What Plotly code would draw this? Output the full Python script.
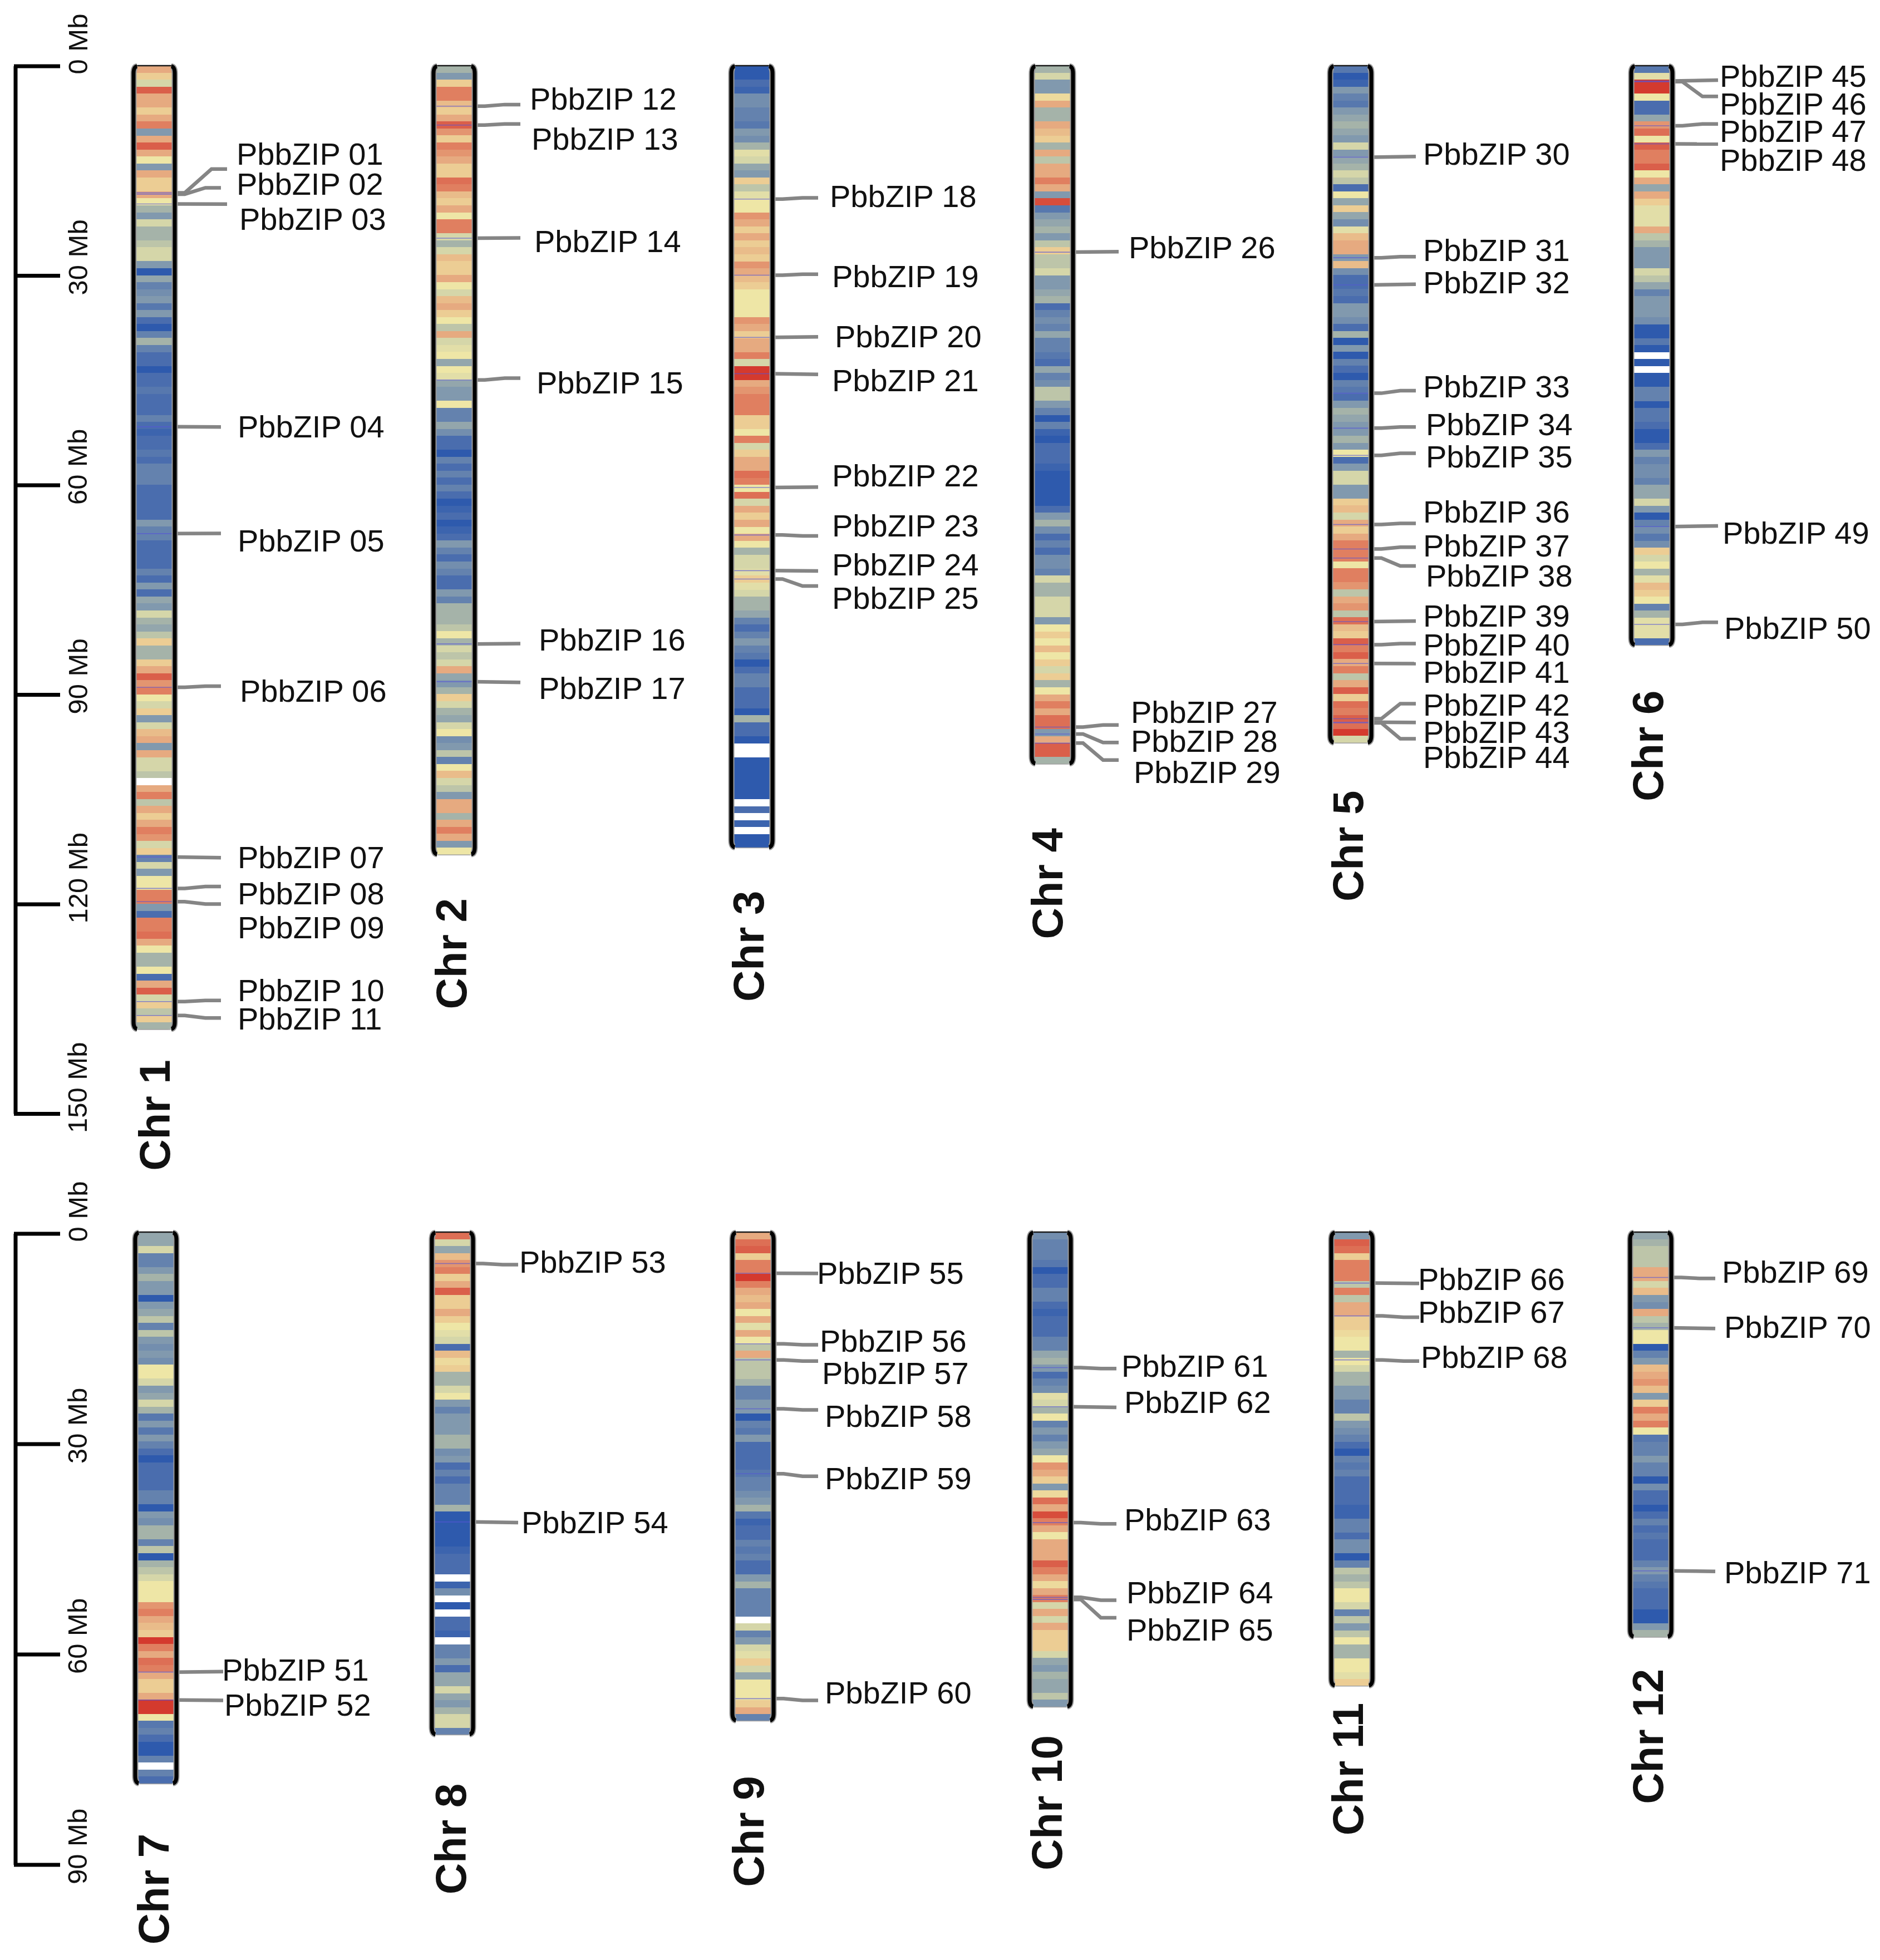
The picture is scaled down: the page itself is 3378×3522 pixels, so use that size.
import plotly.graph_objects as go

# ---- density level per 1 Mb bin, one list per chromosome (None = gap) ----
chr1 = [8,7,5,10,8,8,7,8,9,3,8,10,8,6,3,8,7,7,8,6,4,3,5,4,4,4.5,5,5,3,0,3.5,2,2.5,3,1.5,3,1,0,2,4,2,1,1,0,1,1,1.5,1,1,1,2,1,0.5,1,1,1.5,1,2,2,2,1,1,1,1,1,3,2,2,1,1,
        1,1,2,1,3,1,3.5,3,5,4,3.5,4.5,7,4,4,7,8,10,8.5,9,6,5,7,3,5,7.5,8,3,8,5,5,4.5,None,8,9,4.5,8,7,8,9,8.5,5,7,2,5,3,6,6,9,9,3,1,9,9,9.5,8,6,4,4,6,1,8,10,5,7,4.5,7,4]
chr2 = [4,3,7,9,9,7.5,7,8,10,8.5,7,9,8.5,8,7,7,9.5,9,7.5,7,8,6,9,9,5,4,5,7.5,7,7,8,6,5,7.5,8,7,6,4.5,8,5,5.5,6,3.5,6,5.5,3.5,3,3,6,2,2,3.5,2.5,1,1,0,
        2,1,2,1,2,1,0,0.5,1,0,0.5,1,3,2,1,2.5,2,1,1,3,2,4,4,4,4.5,6,4,5,4.5,5,8,3.5,3,4,7,5,4,3.5,5,6,2.5,3,4.5,2,6,7.5,5,4.5,3,8,8,4,8,9,8,3,6]
chr3 = [0,0,1,0.5,2.5,2.5,2,2,1.5,3,2.5,4,5.5,5,3.5,3,7,4.5,5.5,6,6,8.5,8,7,8,7,7.5,7,8.5,8,7.5,7,6,6,6,6,8.5,8,7,8,8,9,5,11,11,8,8.5,9,9,9,7,7,6,9,5,7,
        8,8,9.5,9,6,9.5,5,8,7,8,6,8,6,4,5,5,5.5,7,5.5,5,4,4,3.5,2,1,2,3,2,1.5,0,1,2,2,1,1,1,0,4,1,1,0,None,None,0,0,0,0,0,0,None,1,None,0.5,None,0,0]
chr4 = [4,5,3,3,6.5,8,4,4,8,7.5,7,4,8,4.5,8,8,9,8,3,10.5,1.5,3,3.5,4,3,4.5,7,4.5,4.5,5,3,3,3.5,4,1,2,2.5,2,3.5,2,2,1.5,1,3.5,2,2.5,4.5,4.5,3,2,0,
        2,0.5,0,1,1,1,0.5,0,0,0,0,0,1,3,4,2.5,1,2,1,2.5,2.5,2,5,4,4,5,5,5,3,6,7,6,7.5,6,7,5,7,4,6,8,9,8,9.5,9.5,3,8,10,10,4]
chr5 = [1.5,0,0.5,3,2,1.5,3,3.5,4,3.5,3,5,3,3.5,4,5,4.5,1,6,3.5,7,3.5,2.5,5.5,7.5,8,8,3,7.5,2.5,1,1,1.5,1,3,3,2.5,1,4,0,3,0,2,1,0,2,1.5,1,3,4,3.5,
        3,3,4,3,6,1,3,5,5,3,3,7,7.5,5,8,7,8,9,9,9,6,9,9,8.5,4.5,8,8.5,4.5,9.5,7.5,7,10,9,10,8,9,4.5,8,10,7,9.5,9,10,9.5,11,5]
chr6 = [1.5,5.5,11,11,6,1,1,3.5,8.5,9.5,6,10,9,9,10,6,8,3.5,8,7,5.5,5.5,5.5,8,4.5,4,3,3,3,5,4.5,3.5,2,3,3,3,2.5,0,0,1.5,0,None,0,None,0,0,2,2,0,1.5,1.5,1,0,0,1,3,2,2.5,2.5,2,3.5,3.5,5,3,0,2,2.5,1.5,2.5,7,5,6,4,5.5,7.5,7,6,2,4,5.5,5.5,5.5,1]
chr7 = [3.5,3.5,5,2,2,3,4,3,3,0,3,3.5,4.5,2,4.5,3,2.5,3,2.5,6,6,5,3,3.5,5,4,1.5,3,1.5,3,2,1,0,1,1,1,1,2,2,0,3,2.5,4,4,2,4.5,0,4,4.5,5,6,6,6,8.5,9,8,7.5,7,11,9,8,9.5,9,8,7,7,8,11,11,6,1.5,2,1,0,0,2,None,2,1]
chr8 = [9.5,5,3.5,7.5,8.5,9,7,8,10,7,7,8,7,6,5.5,5,1,7.5,6.5,7,4,4,5,6,3,2,3,3,3,4,4,2.5,3,1,2,1,2,2,2,4,0,0,0,0,0,0.5,1,1,1,None,0.5,2.5,None,0,None,1,1,0.5,None,2,2,3,1,3.5,3.5,5,3.5,3,4,5,5,2]
chr9 = [8,9.5,10,7,9,9,11,9,8,7.5,8,6,8,5.5,8,6,4.5,8,4.5,4.5,4.5,4,2,2,3,3,0,2,1.5,3,1,1,1,1,1.5,2,2,2.5,3,4,1.5,0.5,1,1,2,1.5,2,1,1,3,4,2,2,2,2,None,5,2,3,5,5.5,7,5,3.5,6,6,6,7,8,2]
chr10 = [2.5,2,2,2,1.5,0,1,1,2,2,1,0.5,1,1,1,2,2,3.5,4,3,1,2,2.5,5.5,5,4,6,2,3,2,3,3.5,6,8.5,8,7,3,6.5,9.5,8,10.5,9,8,6,8,8,8,10,9,8,6.5,8,9,5,8,5,8,7,7,7,5,3.5,3,4,3.5,3.5,4.5,3]
chr11 = [3,10,9.5,7,9,9,9,4.5,9,4.5,8,8,7,7,6.5,6,6,4,6,5,4,4,3,3,2,2,4.5,3,2.5,2,1,0,2,1.5,2,1,1,1,1,0.5,0.5,2,2,1,2.5,2.5,0,2,4.5,4,4.5,6,6,5,2,4.5,3,4.5,6,4,4,6,6,5.5,7]
chr12 = [3.5,4,4.5,4.5,4.5,8,8,5,7.5,3,2.5,8,4.5,4,6,6,0,2,3,7.5,8,8.5,7.5,3,7,9,8,9,6,1.5,2,2,3,2,2,0,2.5,1,1,0,1,2,1,1.5,1,1,1,2,3,2,1.5,1,1,1,0,0,3,4]

chromosomes = [chr1, chr2, chr3, chr4, chr5, chr6, chr7, chr8, chr9, chr10, chr11, chr12]
chr_names = ["Chr 1","Chr 2","Chr 3","Chr 4","Chr 5","Chr 6","Chr 7","Chr 8","Chr 9","Chr 10","Chr 11","Chr 12"]

# ---- gene positions (Mb), one group per chromosome ----
gene_mb = [
    [18.2,18.4,19.8,51.7,67,89,113.3,117.8,119.7,134,136],
    [5.8,8.5,24.7,45,82.8,88.2],
    [19.1,30,38.9,44.1,60.4,67.2,72.3,73.5],
    [26.7,94.7,95.7,97],
    [13.1,27.5,31.4,46.9,51.9,55.8,65.7,69.2,70.5,79.6,82.9,85.6,93.5,94,94.1],
    [2.2,2.3,8.6,11.2,66,80],
    [63,67],
    [4.5,41.5],
    [5.9,16,18.3,25.3,34.6,66.8],
    [19.4,25,41.6,52.3,52.6],
    [7.3,12,18.3],
    [6.5,13.7,48.5],
]

# ---- layout of the drawing (pixels on the page) ----
W, H = 3378, 3522
PX_PER_MB = 12.55
ROW_SPLIT = 2140
ROW_TOP = [118, 2214]
SCALE_TOP = [119, 2217]
SCALE_PX_PER_MB = [12.55, 12.6]
IMG = 2.25
COL_X = [277,816,1351,1891,2427,2968, 280,813,1353,1887,2429,2966]
HALF_FILL, HALF_STROKE, RADIUS = 34, 37, 14
LABEL_DX, LABEL_YSHIFT = -4, 3

label_img_y = [
    [124,148,176,342,433,553,686,715,742,792,815],
    [80,112,194,307,512,551],
    [158,222,270,305,381,421,452,479],
    [199,570,593,618],
    [124,201,227,310,340,366,410,437,461,493,516,538,564,586,606],
    [62,84,106,129,427,503],
    [1335,1363],
    [1009,1217],
    [1018,1072,1098,1132,1182,1353],
    [1092,1121,1215,1273,1303],
    [1023,1049,1085],
    [1017,1061,1257],
]
line_end_img_y = [
    [135,150,163,341,426,548,685,708,722,799,813],
    [83.5,99,190,302,514,545],
    [158,219,269,299,389,428,456,468],
    [201,579,593,607],
    [125,205,227,312,341,362,418,437,452,496,514,530,562,577,590],
    [64,77,99,115,420,497],
    [1335,1358],
    [1010,1216],
    [1017,1074,1087,1126,1179,1358],
    [1093,1124,1217,1278,1292],
    [1025,1052,1087],
    [1021,1061,1255],
]
label_x = [
    [427,427,432,429,429,433,429,429,429,429,429],
    [954,957,962,966,970,970],
    [1493,1497,1502,1497,1497,1497,1497,1497],
    [2030,2034,2034,2039],
    [2559,2559,2559,2559,2564,2564,2559,2559,2564,2559,2559,2559,2559,2559,2559],
    [3092,3092,3092,3092,3097,3100],
    [401,405],
    [935,939],
    [1470,1475,1479,1484,1484,1484],
    [2017,2022,2022,2026,2026],
    [2550,2550,2555],
    [3096,3100,3100],
]
line_end_x = [
    [408,397,408,397,397,397,397,397,397,397,397],
    [935]*6, [1470]*8, [2010]*4, [2544]*15, [3087]*6,
    [401]*2, [931]*2, [1470]*6, [2006]*5, [2550]*3, [3082]*3,
]
chr_label_x = [278,810,1345,1881,2422,2961, 276,810,1345,1881,2422,2961]
chr_label_img_y = [891,762,756,706,676,596, 1509,1469,1463,1440,1413,1387]

scale_ticks = [[0,30,60,90,120,150],[0,30,60,90]]
AXIS_X, TICK_END, TICK_LABEL_X = 28, 108, 139

COLORS = ["#2e5aad","#4a6dae","#6482ae","#8199ae","#a5b3a9","#d5d6a9",
          "#eee6a6","#eccd94","#e6aa80","#e07f60","#da5f4a","#d43a2e"]
colorscale = [[i/11, c] for i, c in enumerate(COLORS)]

FONT = "Liberation Sans"
fig = go.Figure()
shapes, annots = [], []

def row_of(i):
    return 0 if i < 6 else 1
def yname(r):
    return "y" if r == 0 else "y2"
def scale_y(r):
    return "y3" if r == 0 else "y4"
def img_to_mb(v, r):
    return (v*IMG - ROW_TOP[r]) / PX_PER_MB

for i, bins in enumerate(chromosomes):
    r = row_of(i)
    cx = COL_X[i]
    n = len(bins)
    fig.add_trace(go.Heatmap(
        x=[cx-HALF_FILL, cx+HALF_FILL], y=list(range(n+1)),
        z=[[b] for b in bins], zmin=0, zmax=11, colorscale=colorscale,
        showscale=False, yaxis=yname(r), hoverinfo="skip"))
    # thin marks across the chromosome and the connector to the label
    for j, g in enumerate(gene_mb[i]):
        fig.add_trace(go.Scatter(
            x=[cx-HALF_FILL, cx+HALF_FILL], y=[g, g], mode="lines", yaxis=yname(r),
            line=dict(color="rgba(85,85,215,0.65)", width=1.6), showlegend=False, hoverinfo="skip"))
        edge = cx + HALF_STROKE
        ex = line_end_x[i][j]
        e_mb = img_to_mb(line_end_img_y[i][j], r)
        fig.add_trace(go.Scatter(
            x=[edge, edge+18, ex-28, ex], y=[g, g, e_mb, e_mb], mode="lines", yaxis=yname(r),
            line=dict(color="#858585", width=6.5), showlegend=False, hoverinfo="skip"))
        annots.append(dict(
            x=label_x[i][j]+LABEL_DX, y=img_to_mb(label_img_y[i][j], r), xref="x", yref=yname(r),
            text=f"PbbZIP {sum(len(g2) for g2 in gene_mb[:i]) + j + 1:02d}",
            showarrow=False, xanchor="left", yanchor="middle", yshift=LABEL_YSHIFT,
            font=dict(family=FONT, size=56, color="#111111")))
    # rounded ends: white corner masks, then outline
    yr = yname(r)
    rad = RADIUS / PX_PER_MB
    L, R = cx-HALF_STROKE, cx+HALF_STROKE
    for (sx, px0, ye, sy) in [(1,L,0,1),(-1,R,0,1),(1,L,n,-1),(-1,R,n,-1)]:
        shapes.append(dict(type="path", xref="x", yref=yr, layer="above", line=dict(width=0), fillcolor="white",
            path=f"M {px0} {ye} L {px0+sx*RADIUS} {ye} Q {px0} {ye} {px0} {ye+sy*rad} Z"))
    for color, width in [("#9a9a9a", 11), ("#000000", 7)]:
        for px0, sx in [(L, 1), (R, -1)]:
            shapes.append(dict(type="path", xref="x", yref=yr, layer="above",
                line=dict(color=color, width=width),
                path=(f"M {px0+sx*RADIUS*0.45} {rad*0.08} Q {px0} {rad*0.15} {px0} {rad} "
                      f"L {px0} {n-rad} Q {px0} {n-rad*0.15} {px0+sx*RADIUS*0.45} {n-rad*0.08}")))
    shapes.append(dict(type="line", xref="x", yref=yr, layer="above", x0=L+RADIUS*0.45, x1=R-RADIUS*0.45, y0=0, y1=0,
                       line=dict(color="#1a1a1a", width=2.5)))
    shapes.append(dict(type="line", xref="x", yref=yr, layer="above", x0=L+RADIUS*0.45, x1=R-RADIUS*0.45, y0=n, y1=n,
                       line=dict(color="#a0a0a0", width=1.5)))
    annots.append(dict(x=chr_label_x[i], y=img_to_mb(chr_label_img_y[i], r), xref="x", yref=yr,
                       text=f"<b>{chr_names[i]}</b>", textangle=-90, showarrow=False,
                       xanchor="center", yanchor="middle",
                       font=dict(family=FONT, size=78, color="#111111")))

# ---- Mb scale bars ----
for r, ticks in enumerate(scale_ticks):
    ya = scale_y(r)
    fig.add_trace(go.Scatter(x=[AXIS_X, AXIS_X], y=[ticks[0], ticks[-1]], mode="lines", yaxis=ya,
                             line=dict(color="black", width=7), showlegend=False, hoverinfo="skip"))
    for t in ticks:
        fig.add_trace(go.Scatter(x=[AXIS_X-3, TICK_END], y=[t, t], mode="lines", yaxis=ya,
                                 line=dict(color="black", width=7), showlegend=False, hoverinfo="skip"))
        annots.append(dict(x=TICK_LABEL_X, y=t, xref="x", yref=ya, text=f"{t} Mb", textangle=-90,
                           showarrow=False, xanchor="center", yanchor="bottom",
                           yshift=-17 if t == 0 else -37,
                           font=dict(family=FONT, size=49, color="#111111")))

split = ROW_SPLIT / H
fig.update_layout(
    width=W, height=H, margin=dict(l=0, r=0, t=0, b=0),
    paper_bgcolor="white", plot_bgcolor="rgba(0,0,0,0)", showlegend=False,
    xaxis=dict(range=[0, W], domain=[0, 1], visible=False, fixedrange=True),
    yaxis=dict(domain=[1-split, 1], visible=False, anchor="x",
               range=[(ROW_SPLIT-ROW_TOP[0])/PX_PER_MB, -ROW_TOP[0]/PX_PER_MB]),
    yaxis2=dict(domain=[0, 1-split], visible=False, anchor="x",
                range=[(H-ROW_TOP[1])/PX_PER_MB, (ROW_SPLIT-ROW_TOP[1])/PX_PER_MB]),
    yaxis3=dict(overlaying="y", visible=False, anchor="x",
                range=[(ROW_SPLIT-SCALE_TOP[0])/SCALE_PX_PER_MB[0], -SCALE_TOP[0]/SCALE_PX_PER_MB[0]]),
    yaxis4=dict(overlaying="y2", visible=False, anchor="x",
                range=[(H-SCALE_TOP[1])/SCALE_PX_PER_MB[1], (ROW_SPLIT-SCALE_TOP[1])/SCALE_PX_PER_MB[1]]),
    shapes=shapes, annotations=annots,
)
fig.write_html("out.html", config={"displayModeBar": False},
               post_script="document.body.style.margin='0';")
